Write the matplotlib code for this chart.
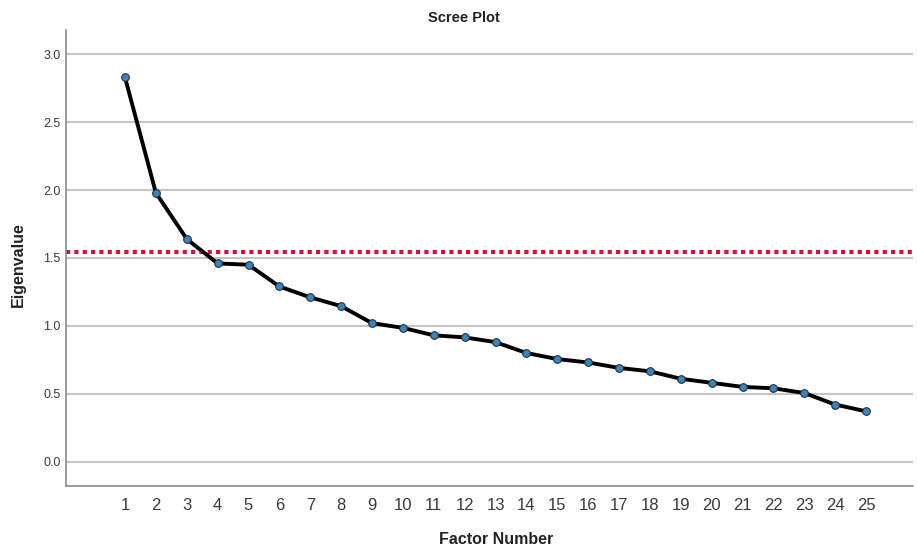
import numpy as np
import matplotlib
matplotlib.use("Agg")
import matplotlib.pyplot as plt

# eigenvalues
factors = list(range(1, 26))
eigenvalues = [2.83, 1.98, 1.64, 1.46, 1.45, 1.29, 1.21, 1.145, 1.02, 0.985,
               0.93, 0.915, 0.88, 0.80, 0.755, 0.73, 0.69, 0.665, 0.61, 0.58,
               0.55, 0.54, 0.505, 0.42, 0.37]
cutoff = 1.545
y_ticks = [0.0, 0.5, 1.0, 1.5, 2.0, 2.5, 3.0]

plt.rcParams["font.family"] = ["Liberation Sans", "DejaVu Sans"]

fig = plt.figure(figsize=(9.17, 5.51), dpi=100)
ax = fig.add_axes([0.072, 0.118, 0.9236, 0.8276])

for y in y_ticks:
    ax.axhline(y, color="#c4c4c4", linewidth=1.5, zorder=1)

ax.axhline(cutoff, color="#d4123c", linewidth=3, linestyle=(0, (1, 1)), zorder=2)

ax.plot(factors, eigenvalues, color="black", linewidth=2.8, zorder=3,
        marker="o", markersize=5.5, markerfacecolor="#3d85b8",
        markeredgecolor="#1f3040", markeredgewidth=0.8)

ax.set_xlim(-0.91, 26.52)
ax.set_ylim(-0.18, 3.18)
ax.set_xticks(factors)
ax.set_xticklabels([str(f) for f in factors])
ax.set_yticks(y_ticks)
ax.set_yticklabels([f"{v:.1f}" for v in y_ticks])

ax.tick_params(axis="x", length=0, pad=9, labelsize=12, labelcolor="#3a3a3a")
ax.tick_params(axis="y", length=0, pad=4, labelsize=9, labelcolor="#3a3a3a")

for side in ["top", "right"]:
    ax.spines[side].set_visible(False)
for side in ["left", "bottom"]:
    ax.spines[side].set_color("#8a8a8a")
    ax.spines[side].set_linewidth(1.2)

fig.text(464 / 917, 1 - 18 / 551, "Scree Plot", ha="center", va="center",
         fontsize=10.5, fontweight="bold", color="#222222")
fig.text(496 / 917, 1 - 540 / 551, "Factor Number", ha="center", va="center",
         fontsize=11.5, fontweight="bold", color="#222222")
fig.text(18 / 917, 1 - 265 / 551, "Eigenvalue", ha="center", va="center",
         rotation=90, fontsize=11.5, fontweight="bold", color="#222222")

fig.savefig("out.png", dpi=100)
